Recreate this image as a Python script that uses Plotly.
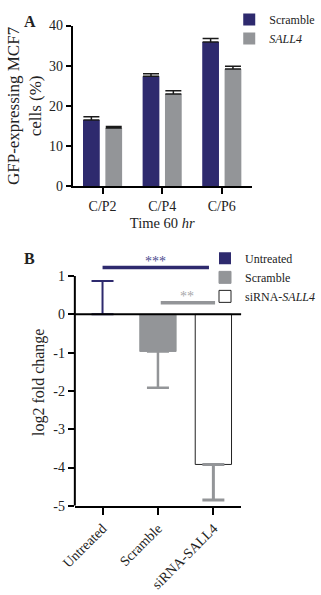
import plotly.graph_objects as go

# ---- Panel A data ----
a_categories = ["C/P2", "C/P4", "C/P6"]
a_scramble = [16.5, 27.4, 35.9]
a_scramble_err = [0.8, 0.6, 0.9]
a_sall4 = [14.5, 23.0, 29.2]
a_sall4_err = [0.4, 0.8, 0.7]
a_yticks = [0, 10, 20, 30, 40]

# ---- Panel B data ----
b_categories = ["Untreated", "Scramble", "siRNA-SALL4"]
b_values = [0.0, -0.97, -3.92]
b_err_plus = [0.87, 0.0, 0.0]
b_err_minus = [0.0, 0.95, 0.93]
b_yticks = [-5, -4, -3, -2, -1, 0, 1]
b_yticklabels = ["-5", "-4", "-3", "-2", "-1", "0", "1"]
sig_x0 = [0.0, 1.05]
sig_x1 = [1.92, 2.03]
sig_y = [1.22, 0.30]
sig_text = ["***", "**"]
sig_text_x = [0.96, 1.53]
sig_text_y = [1.37, 0.47]

NAVY = "#2e2a6e"
GRAY = "#939598"
SERIF = "Liberation Serif, Times New Roman, serif"
W, H = 321, 595

def px_x(p):
    return p / W

def px_y(p):
    return 1 - p / H

a_pos = list(range(len(a_categories)))
b_pos = list(range(len(b_categories)))

fig = go.Figure()

# Panel A
fig.add_trace(go.Bar(
    x=a_pos, y=a_scramble, name="Scramble", marker=dict(color=NAVY, line=dict(width=0)),
    width=0.281, offset=-0.328,
    error_y=dict(type="data", array=a_scramble_err, arrayminus=[0] * 3, symmetric=False,
                 color="#1a1a1a", thickness=1.5, width=8),
    xaxis="x", yaxis="y", legend="legend"))
fig.add_trace(go.Bar(
    x=a_pos, y=a_sall4, name="<i>SALL4</i>", marker=dict(color=GRAY, line=dict(width=0)),
    width=0.281, offset=0.047,
    error_y=dict(type="data", array=a_sall4_err, arrayminus=[0] * 3, symmetric=False,
                 color="#1a1a1a", thickness=1.5, width=8),
    xaxis="x", yaxis="y", legend="legend"))

# Panel B
b_colors = [NAVY, GRAY, "white"]
b_lines = [NAVY, GRAY, "#222222"]
b_line_w = [0, 1, 1]
b_err_colors = [NAVY, GRAY, GRAY]
b_err_thick = [2, 2.5, 3]
b_names = ["Untreated", "Scramble", "siRNA-<i>SALL4</i>"]
for i in range(3):
    fig.add_trace(go.Bar(
        x=[b_pos[i]], y=[b_values[i]], name=b_names[i],
        marker=dict(color=b_colors[i], line=dict(color=b_lines[i], width=b_line_w[i])),
        width=0.655, offset=-0.328,
        error_y=dict(type="data", array=[b_err_plus[i]], arrayminus=[b_err_minus[i]], symmetric=False,
                     color=b_err_colors[i], thickness=b_err_thick[i], width=11),
        xaxis="x2", yaxis="y2", legend="legend2"))

sig_colors = [NAVY, GRAY]
sig_text_colors = ["#4b4b8f", "#a8a8aa"]
for i in range(2):
    fig.add_trace(go.Scatter(
        x=[sig_x0[i], sig_x1[i]], y=[sig_y[i], sig_y[i]], mode="lines",
        line=dict(color=sig_colors[i], width=3.5), showlegend=False,
        xaxis="x2", yaxis="y2", hoverinfo="skip"))
    fig.add_annotation(x=sig_text_x[i], y=sig_text_y[i], xref="x2", yref="y2",
                       text=sig_text[i], showarrow=False,
                       font=dict(family=SERIF, size=14, color=sig_text_colors[i]))

tickfont = dict(family=SERIF, size=14, color="#222222")

fig.update_layout(
    width=W, height=H,
    margin=dict(l=0, r=0, t=0, b=0),
    paper_bgcolor="white", plot_bgcolor="white",
    barmode="overlay",
    showlegend=True,
    font=dict(family=SERIF, color="#222222"),
    xaxis=dict(domain=[px_x(62), px_x(254)], range=[-0.5, 2.5],
               tickvals=a_pos, ticktext=a_categories,
               showline=True, linecolor="black", linewidth=2, ticks="outside",
               ticklen=6, tickwidth=2, tickcolor="black", tickfont=tickfont,
               showgrid=False, zeroline=False,
               title=dict(text="Time 60 <i>hr</i>", font=dict(family=SERIF, size=14.5), standoff=5),
               anchor="y"),
    yaxis=dict(domain=[px_y(184), px_y(19)], range=[0, 40], tickvals=a_yticks,
               showline=True, linecolor="black", linewidth=2, ticks="outside",
               ticklen=5, tickwidth=2, tickcolor="black", tickfont=tickfont,
               showgrid=False, zeroline=False,
               title=dict(text="GFP-expressing MCF7<br>cells (%)", font=dict(family=SERIF, size=17), standoff=3),
               anchor="x"),
    xaxis2=dict(domain=[px_x(64.25), px_x(242.75)], range=[-0.5, 2.5],
                tickvals=b_pos, ticktext=b_categories,
                showline=True, linecolor="black", linewidth=2, ticks="outside",
                ticklen=7, tickwidth=2, tickcolor="black",
                tickfont=dict(family=SERIF, size=14, color="#222222"), tickangle=-45,
                showgrid=False, zeroline=False, anchor="y2"),
    yaxis2=dict(domain=[px_y(511.7), px_y(258.3)], range=[-5, 1.45],
                tickvals=b_yticks, ticktext=b_yticklabels,
                showline=False, ticks="outside",
                ticklen=6, tickwidth=2, tickcolor="black", tickfont=tickfont,
                showgrid=False, zeroline=False,
                title=dict(text="log2 fold change", font=dict(family=SERIF, size=16), standoff=4),
                anchor="x2"),
    legend=dict(x=px_x(230), y=px_y(-2), xanchor="left", yanchor="top",
                font=dict(family=SERIF, size=12, color="#222222"), bgcolor="rgba(0,0,0,0)",
                tracegroupgap=0),
    legend2=dict(x=px_x(204), y=px_y(243), xanchor="left", yanchor="top",
                 font=dict(family=SERIF, size=12, color="#222222"), bgcolor="rgba(0,0,0,0)",
                 tracegroupgap=0),
)

# y-axis line of panel B (from -5 to 1) and zero line drawn above bars
fig.add_shape(type="line", xref="x2 domain", yref="y2", x0=0, x1=0, y0=b_yticks[0], y1=b_yticks[-1],
              line=dict(color="black", width=2))
fig.add_shape(type="line", xref="x2 domain", yref="y2", x0=0, x1=1, y0=0, y1=0, layer="above",
              line=dict(color="black", width=2))

fig.add_annotation(x=px_x(8), y=px_y(4), xref="paper", yref="paper", xanchor="left", yanchor="top",
                   text="<b>A</b>", showarrow=False, font=dict(family=SERIF, size=16, color="#222222"))
fig.add_annotation(x=px_x(7), y=px_y(247), xref="paper", yref="paper", xanchor="left", yanchor="top",
                   text="<b>B</b>", showarrow=False, font=dict(family=SERIF, size=16, color="#222222"))

fig.write_html("out.html")
